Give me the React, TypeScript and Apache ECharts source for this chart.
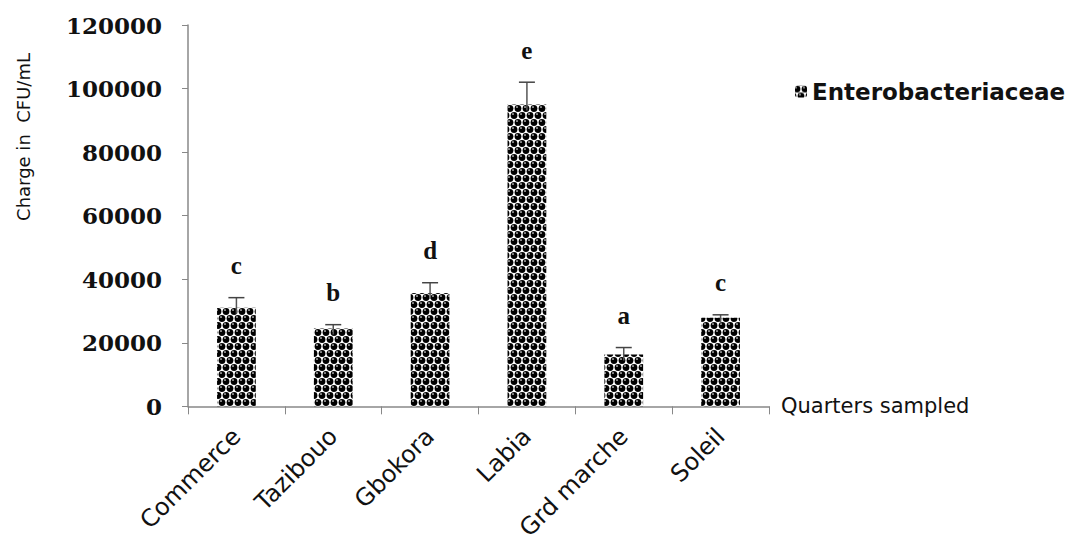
import React, { useEffect, useRef } from "react";
import * as echarts from "echarts";

const categories = ["Commerce", "Tazibouo", "Gbokora", "Labia", "Grd marche", "Soleil"];
const values = [31000, 24500, 35700, 95000, 16300, 27900];
const errors = [3200, 1200, 3200, 7000, 2200, 900];
const letters = ["c", "b", "d", "e", "a", "c"];
const yTicks = [0, 20000, 40000, 60000, 80000, 100000, 120000];

function makePattern(): string {
  const c = document.createElement("canvas");
  c.width = 8;
  c.height = 14;
  const g = c.getContext("2d")!;
  g.fillStyle = "#ffffff";
  g.fillRect(0, 0, 8, 14);
  const balls = [
    [2, 3.5],
    [6, 10.5],
    [-2, 10.5],
    [10, 3.5],
    [2, 17.5],
    [6, -3.5],
  ];
  g.fillStyle = "#000000";
  for (const [x, y] of balls) {
    g.beginPath();
    g.arc(x, y, 3.4, 0, Math.PI * 2);
    g.fill();
  }
  g.fillStyle = "#ffffff";
  for (const [x, y] of balls) {
    g.beginPath();
    g.arc(x - 1, y - 1.4, 0.8, 0, Math.PI * 2);
    g.fill();
  }
  return c.toDataURL();
}

export default function App() {
  const ref = useRef<HTMLDivElement>(null);
  useEffect(() => {
    if (!ref.current) return;
    const chart = echarts.init(ref.current, null, { renderer: "svg" });
    const pattern = { image: makePattern(), repeat: "repeat" } as any;
    const errData = values.map((v, i) => [i, v, errors[i]]);
    chart.setOption({
      animation: false,
      backgroundColor: "#ffffff",
      grid: { left: 188, right: 306, top: 25, bottom: 135, containLabel: false },
      graphic: [
        {
          type: "text",
          x: 23,
          y: 137,
          rotation: Math.PI / 2,
          style: {
            text: "Charge in  CFU/mL",
            fontFamily: "DejaVu Sans",
            fontSize: 18,
            fill: "#111",
            align: "center",
            verticalAlign: "middle",
          },
        },
      ],
      legend: {
        data: ["Enterobacteriaceae"],
        left: 790,
        top: 75,
        itemWidth: 12,
        itemHeight: 12,
        itemGap: 5,
        textStyle: { fontFamily: "DejaVu Sans", fontSize: 23, color: "#111", fontWeight: 600 },
      },
      xAxis: {
        type: "category",
        data: categories,
        name: "Quarters sampled",
        nameLocation: "end",
        nameGap: 12,
        nameTextStyle: { fontFamily: "DejaVu Sans", fontSize: 21, color: "#111", verticalAlign: "middle" },
        axisLine: { lineStyle: { color: "#888", width: 1.5 } },
        axisTick: { show: true, alignWithLabel: false, length: 8, lineStyle: { color: "#888" } },
        axisLabel: {
          rotate: 45,
          interval: 0,
          fontFamily: "DejaVu Sans",
          fontSize: 24,
          color: "#111",
          margin: 26,
        },
      },
      yAxis: {
        type: "value",
        min: 0,
        max: 120000,
        interval: 20000,
        axisLine: { show: true, lineStyle: { color: "#888", width: 1.5 } },
        axisTick: { show: true, length: 6, lineStyle: { color: "#888" } },
        splitLine: { show: false },
        axisLabel: {
          fontFamily: "DejaVu Serif",
          fontWeight: "bold",
          fontSize: 23,
          color: "#111",
          margin: 26,
          formatter: (v: number) => (yTicks.includes(v) ? String(v) : ""),
        },
      },
      series: [
        {
          name: "Enterobacteriaceae",
          type: "bar",
          data: values,
          barWidth: "40%",
          itemStyle: { color: pattern },
        },
        {
          name: "err",
          type: "custom",
          data: errData,
          z: 5,
          renderItem: (params: any, api: any) => {
            const x = api.value(0);
            const v = api.value(1);
            const e = api.value(2);
            const base = api.coord([x, v]);
            const top = api.coord([x, v + e]);
            return {
              type: "group",
              children: [
                {
                  type: "line",
                  shape: { x1: base[0], y1: base[1] + 6, x2: top[0], y2: top[1] },
                  style: { stroke: "#555", lineWidth: 1.5 },
                },
                {
                  type: "line",
                  shape: { x1: top[0] - 8, y1: top[1], x2: top[0] + 8, y2: top[1] },
                  style: { stroke: "#444", lineWidth: 1.5 },
                },
                {
                  type: "text",
                  x: top[0],
                  y: top[1] - 32,
                  style: {
                    text: letters[params.dataIndex],
                    fontFamily: "Liberation Serif",
                    fontWeight: "bold",
                    fontSize: 25,
                    fill: "#111",
                    align: "center",
                    verticalAlign: "middle",
                  },
                },
              ],
            };
          },
        },
      ],
    });
    return () => chart.dispose();
  }, []);
  return <div ref={ref} style={{ width: 1075, height: 543, position: "absolute", left: 0, top: 0 }} />;
}
